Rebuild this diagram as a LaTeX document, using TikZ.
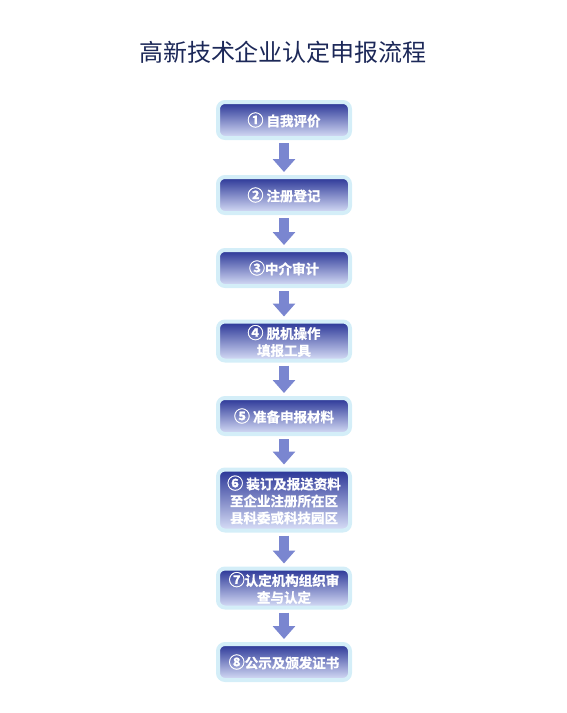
\documentclass[tikz,border=0pt]{standalone}
\usepackage{fontspec}
\newfontfamily\cjk{Noto Sans CJK SC}
\newfontfamily\cjkb{Noto Sans CJK SC Bold}[FakeBold=1.2]
\usetikzlibrary{arrows.meta,positioning}
\definecolor{halo}{RGB}{212,238,248}
\definecolor{boxtop}{RGB}{40,52,150}
\definecolor{boxmid}{RGB}{80,96,196}
\definecolor{boxbot}{RGB}{218,224,248}
\definecolor{arrowblue}{RGB}{122,134,208}
\definecolor{titleblue}{RGB}{28,40,88}
\newcommand{\num}[1]{{\fontsize{16}{17}\selectfont #1}}
\tikzstyle{stage}=[rectangle, rounded corners=7pt, draw=halo, line width=4pt, top color=boxtop, middle color=boxmid, bottom color=boxbot, minimum width=132pt, minimum height=36pt, inner sep=2pt, align=center, text=white, font=\cjkb\fontsize{13.5}{17}\selectfont]
\tikzstyle{flow}=[arrowblue, line width=10pt, -{Triangle[width=22pt,length=13pt]}, shorten <=3pt, shorten >=3pt]
\newcommand{\stage}{\node[stage]}

\begin{document}
\begin{tikzpicture}[x=1pt,y=-1pt]
            \useasboundingbox (0,0) rectangle (567,713);
            \node[text=titleblue, font=\cjk\fontsize{24}{28}\selectfont] (title) at (283,52) {高新技术企业认定申报流程};

            \stage (s1) at (284,120) {\num{①} 自我评价};
            \stage (s2) at (284,195) {\num{②} 注册登记};
            \stage (s3) at (284,268) {\num{③}中介审计};
            \stage (s4) at (284,341) [minimum height=39pt] {\num{④} 脱机操作\\填报工具};
            \stage (s5) at (284,416) {\num{⑤} 准备申报材料};
            \stage (s6) at (284,500) [minimum height=61pt] {\num{⑥} 装订及报送资料\\至企业注册所在区\\县科委或科技园区};
            \stage (s7) at (284,588) [minimum height=39pt] {\num{⑦}认定机构组织审\\查与认定};
            \stage (s8) at (284,662) {\num{⑧}公示及颁发证书};

            \path[flow]
            (s1) edge (s2)
            (s2) edge (s3)
            (s3) edge (s4)
            (s4) edge (s5)
            (s5) edge (s6)
            (s6) edge (s7)
            (s7) edge (s8)
            ;
        \end{tikzpicture}
\end{document}
